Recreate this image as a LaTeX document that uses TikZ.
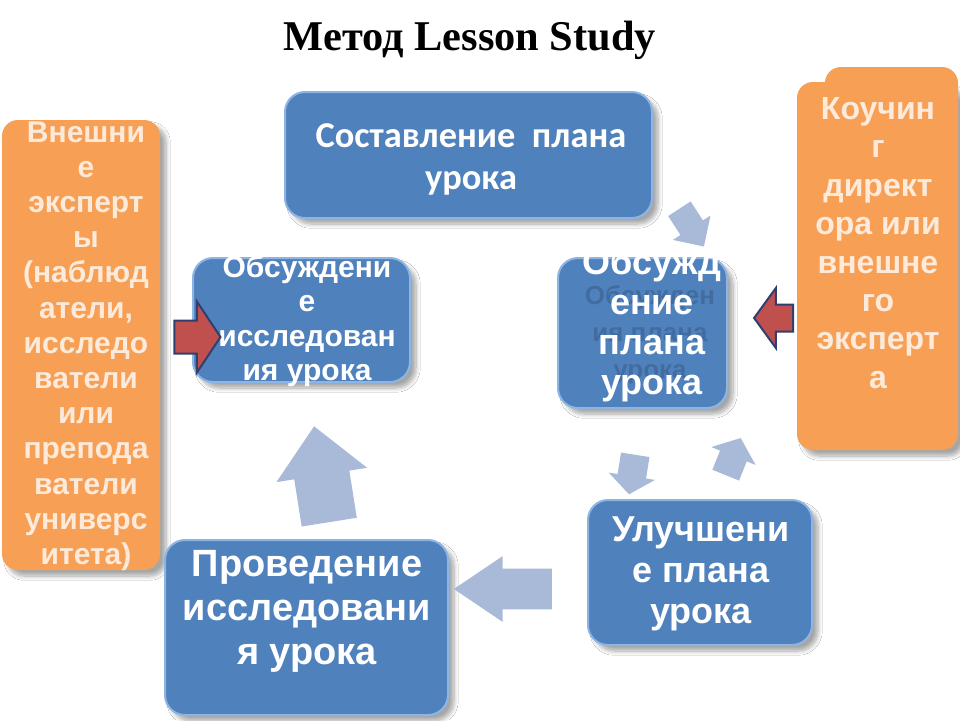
\documentclass[tikz,border=0pt]{standalone}
\usepackage{fontspec}
\setmainfont{Liberation Sans}
\newfontfamily\titlefont{Liberation Serif}
\newfontfamily\calfont{Carlito}
\usetikzlibrary{positioning, shapes.arrows, shadows.blur}

\definecolor{boxblue}{HTML}{4F81BD}
\definecolor{boxedge}{HTML}{8EB4E3}
\definecolor{expertorange}{HTML}{F7A055}
\definecolor{creamtext}{HTML}{FDEADA}
\definecolor{arrowgray}{HTML}{A9BAD8}
\definecolor{arrowred}{HTML}{C0504D}
\definecolor{navyedge}{HTML}{2F4070}

\tikzset{
  softshadow/.style={blur shadow={shadow xshift=3pt, shadow yshift=-3pt, shadow blur steps=8, shadow opacity=35}},
  stagebox/.style={draw=boxedge, line width=1pt, fill=boxblue, rounded corners=10pt, softshadow},
  expertbox/.style={fill=expertorange, rounded corners=8pt, softshadow},
  stagetext/.style={text=white, align=center, inner sep=0pt},
  experttext/.style={text=creamtext, align=center, inner sep=0pt},
  cyclearrow/.style={shape=single arrow, fill=arrowgray, inner xsep=0pt, single arrow head indent=0pt},
  redarrow/.style={shape=single arrow, fill=arrowred, draw=navyedge, line width=1pt, inner xsep=0pt, single arrow head indent=0pt}
}

\begin{document}
\begin{tikzpicture}[x=0.5pt, y=-0.5pt]
\useasboundingbox (0,0) rectangle (960,720);
\fill[white] (0,0) rectangle (960,720);

\node at (470,40) (title) {\titlefont\fontsize{21.2}{25}\selectfont\bfseries Метод Lesson Study};

\node[expertbox, minimum width=79pt, minimum height=225pt] at (81,345) (experts) {};
\node[expertbox, minimum width=80.5pt, minimum height=184pt] at (877.5,266) (coach) {};
\fill[expertorange, rounded corners=8pt] (825,67) -- (958,67) -- (958,120) -- (825,120) -- cycle;

\node[stagebox, minimum width=183.5pt, minimum height=63pt] at (468.5,155) (plan) {};
\node[stagebox, minimum width=108.5pt, minimum height=62pt] at (301.5,320) (discussres) {};
\node[stagebox, minimum width=84.5pt, minimum height=75pt] at (642.5,333) (discussplan) {};
\node[stagebox, minimum width=112pt, minimum height=72.5pt] at (700,572.5) (improve) {};
\node[stagebox, minimum width=141.5pt, minimum height=87.5pt] at (306.5,627.5) (conduct) {};

\node[experttext, font=\fontsize{15}{17.6}\selectfont\bfseries] at (86,346) (expertsT)
  {Внешни\\е\\эксперт\\ы\\(наблюд\\атели,\\исследо\\ватели\\или\\препода\\ватели\\универс\\итета)};
\node[experttext, font=\fontsize{16}{19.2}\selectfont\bfseries] at (878,243) (coachT)
  {Коучин\\г\\директ\\ора или\\внешне\\го\\эксперт\\а};

\node[stagetext, font=\calfont\fontsize{18.2}{21}\selectfont\bfseries] at (471,159) (planT) {Составление\ \ плана\\урока};
\node[stagetext, font=\fontsize{15}{17.2}\selectfont\bfseries] at (307,321) (discussresT) {Обсуждени\\е\\исследован\\ия урока};
\node[stagetext, text=boxblue!55!black, opacity=0.35, font=\fontsize{13}{18.5}\selectfont\bfseries] at (650,335) (discussplanG) {Обсужден\\ия плана\\урока};
\node[stagetext, font=\fontsize{18}{20}\selectfont\bfseries] at (652,325) (discussplanT) {Обсужд\\ение\\плана\\урока};
\node[stagetext, font=\fontsize{18}{20.5}\selectfont\bfseries] at (701,574) (improveT) {Улучшени\\е плана\\урока~};
\node[stagetext, font=\fontsize{19}{22}\selectfont\bfseries] at (307,611) (conductT) {Проведение\\исследовани\\я урока};

\node[cyclearrow, rotate=-57, minimum height=22.5pt, inner ysep=6.5pt, single arrow head extend=4.5pt, single arrow tip angle=90] at (688,222) (toplan) {};
\node[cyclearrow, rotate=-99, minimum height=20pt, inner ysep=7pt, single arrow head extend=4.5pt, single arrow tip angle=104] at (633,469) (toimprove) {};
\node[cyclearrow, rotate=68, minimum height=20pt, inner ysep=7pt, single arrow head extend=4.75pt, single arrow tip angle=102] at (731,462) (todiscuss) {};
\node[cyclearrow, rotate=180, minimum height=49pt, inner ysep=10pt, single arrow head extend=6.25pt, single arrow tip angle=68] at (518,589) (toconduct) {};
\node[cyclearrow, rotate=99, minimum height=48.5pt, inner ysep=13.75pt, single arrow head extend=9pt, single arrow tip angle=86] at (324,489) (toresearch) {};

\node[redarrow, minimum height=23pt, inner ysep=7.75pt, single arrow head extend=9.5pt, single arrow tip angle=113] at (192,337) (fromexperts) {};
\node[redarrow, rotate=180, minimum height=19.5pt, inner ysep=6.25pt, single arrow head extend=8.25pt, single arrow tip angle=108] at (778.5,318) (fromcoach) {};
\end{tikzpicture}
\end{document}
